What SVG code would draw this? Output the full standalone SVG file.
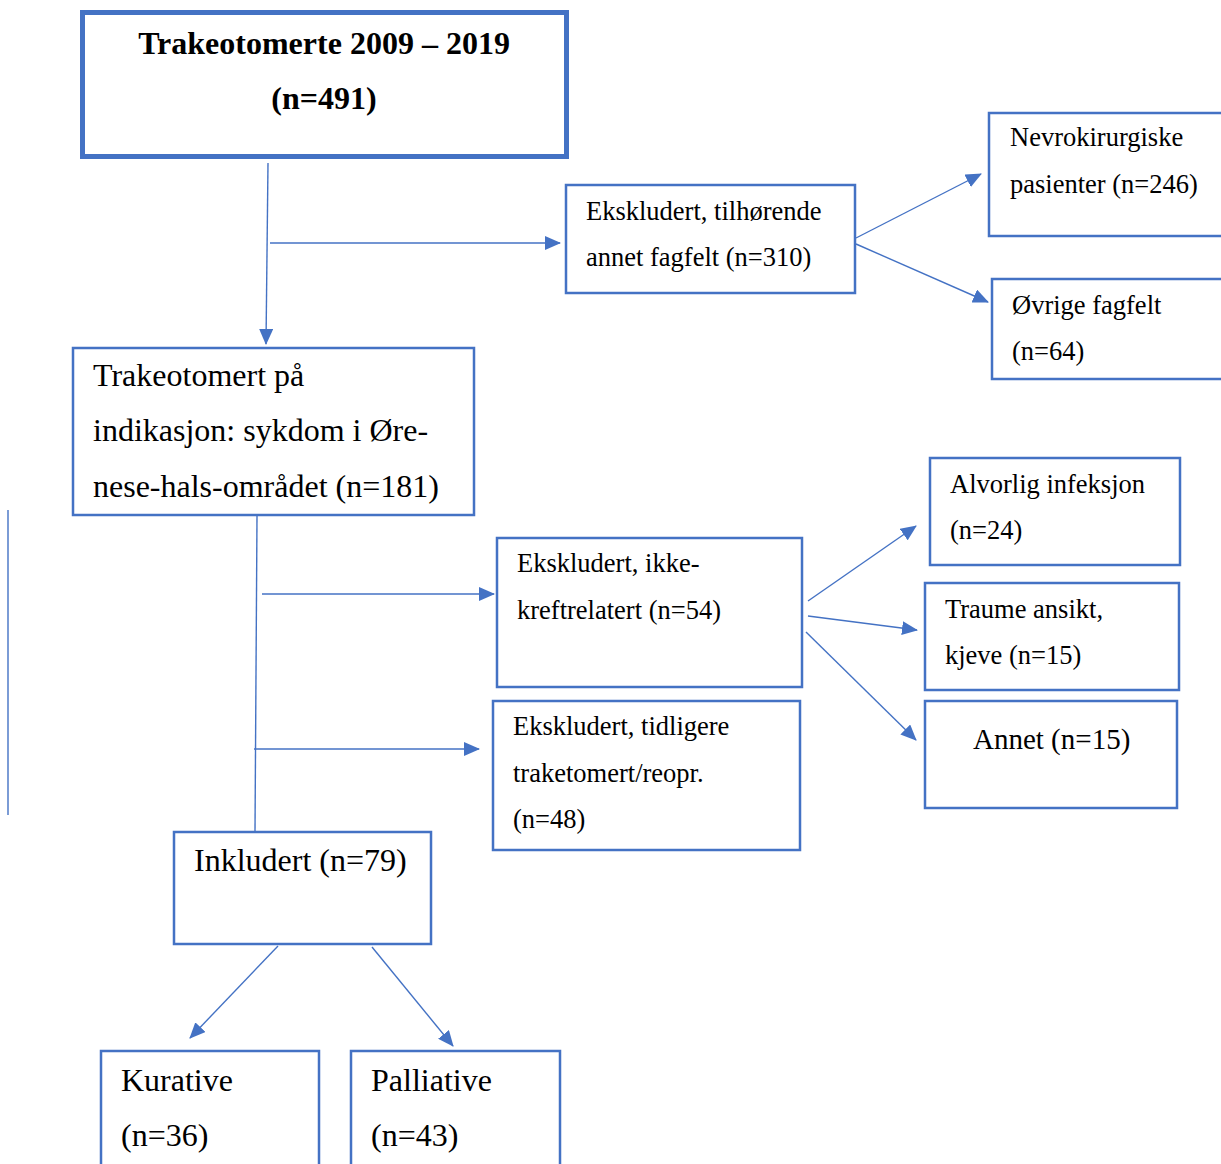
<svg xmlns="http://www.w3.org/2000/svg" width="1221" height="1164" viewBox="0 0 1221 1164">
<style>
.box{fill:#fff;stroke:#4472C4;stroke-width:2.5}
.main{fill:#fff;stroke:#4472C4;stroke-width:5}
.t{font-family:"Liberation Serif","Times New Roman",serif;fill:#000}
.s22{font-size:26.5px}
.s28{font-size:32px}
.b{font-size:32px;font-weight:bold}
.ln{stroke:#4472C4;stroke-width:1.4;fill:none}
.arr{marker-end:url(#ah)}
</style>
<defs>
<marker id="ah" markerUnits="userSpaceOnUse" markerWidth="16" markerHeight="14" refX="15" refY="7" orient="auto">
<path d="M0,0 L16,7 L0,14 Z" fill="#4472C4"/>
</marker>
</defs>
<g id="connectors">
<line class="ln arr" x1="268" y1="163" x2="266" y2="344"/>
<line class="ln arr" x1="270" y1="243" x2="560" y2="243"/>
<line class="ln arr" x1="856" y1="238" x2="981" y2="174"/>
<line class="ln arr" x1="856" y1="244" x2="988" y2="302"/>
<line class="ln" x1="8" y1="510" x2="8" y2="815"/>
<line class="ln" x1="257" y1="516" x2="255" y2="831"/>
<line class="ln arr" x1="262" y1="594" x2="494" y2="594"/>
<line class="ln arr" x1="254" y1="749" x2="479" y2="749"/>
<line class="ln arr" x1="808" y1="601" x2="916" y2="526"/>
<line class="ln arr" x1="808" y1="616" x2="917" y2="630"/>
<line class="ln arr" x1="806" y1="632" x2="916" y2="740"/>
<line class="ln arr" x1="278" y1="946" x2="190" y2="1038"/>
<line class="ln arr" x1="372" y1="947" x2="453" y2="1046"/>
</g>
<g id="n_total">
<rect class="main" x="82.5" y="12.5" width="484" height="144"/>
<text class="t b" x="324" y="54" text-anchor="middle">Trakeotomerte 2009 – 2019</text>
<text class="t b" x="324" y="109" text-anchor="middle">(n=491)</text>
</g>
<g id="n_excl1">
<rect class="box" x="566" y="185" width="289" height="108"/>
<text class="t s22" x="586" y="220">Ekskludert, tilhørende</text>
<text class="t s22" x="586" y="266">annet fagfelt (n=310)</text>
</g>
<g id="n_nevro">
<rect class="box" x="989" y="113" width="240" height="123"/>
<text class="t s22" x="1010" y="146">Nevrokirurgiske</text>
<text class="t s22" x="1010" y="193">pasienter (n=246)</text>
</g>
<g id="n_ovrige">
<rect class="box" x="992" y="279" width="237" height="100"/>
<text class="t s22" x="1012" y="314">Øvrige fagfelt</text>
<text class="t s22" x="1012" y="360">(n=64)</text>
</g>
<g id="n_ohn">
<rect class="box" x="73" y="348" width="401" height="167"/>
<text class="t s28" x="93" y="386">Trakeotomert på</text>
<text class="t s28" x="93" y="441">indikasjon: sykdom i Øre-</text>
<text class="t s28" x="93" y="497">nese-hals-området (n=181)</text>
</g>
<g id="n_excl2">
<rect class="box" x="497" y="538" width="305" height="149"/>
<text class="t s22" x="517" y="572">Ekskludert, ikke-</text>
<text class="t s22" x="517" y="619">kreftrelatert (n=54)</text>
</g>
<g id="n_excl3">
<rect class="box" x="493" y="701" width="307" height="149"/>
<text class="t s22" x="513" y="735">Ekskludert, tidligere</text>
<text class="t s22" x="513" y="782">traketomert/reopr.</text>
<text class="t s22" x="513" y="828">(n=48)</text>
</g>
<g id="n_infeksjon">
<rect class="box" x="930" y="458" width="250" height="107"/>
<text class="t s22" x="950" y="493">Alvorlig infeksjon</text>
<text class="t s22" x="950" y="539">(n=24)</text>
</g>
<g id="n_traume">
<rect class="box" x="925" y="583" width="254" height="107"/>
<text class="t s22" x="945" y="618">Traume ansikt,</text>
<text class="t s22" x="945" y="664">kjeve (n=15)</text>
</g>
<g id="n_annet">
<rect class="box" x="925" y="701" width="252" height="107"/>
<text class="t" style="font-size:29px" x="973" y="749">Annet (n=15)</text>
</g>
<g id="n_inkl">
<rect class="box" x="174" y="832" width="257" height="112"/>
<text class="t s28" x="194" y="871">Inkludert (n=79)</text>
</g>
<g id="n_kurative">
<rect class="box" x="101" y="1051" width="218" height="130"/>
<text class="t s28" x="121" y="1091">Kurative</text>
<text class="t s28" x="121" y="1146">(n=36)</text>
</g>
<g id="n_palliative">
<rect class="box" x="351" y="1051" width="209" height="130"/>
<text class="t s28" x="371" y="1091">Palliative</text>
<text class="t s28" x="371" y="1146">(n=43)</text>
</g>
</svg>
